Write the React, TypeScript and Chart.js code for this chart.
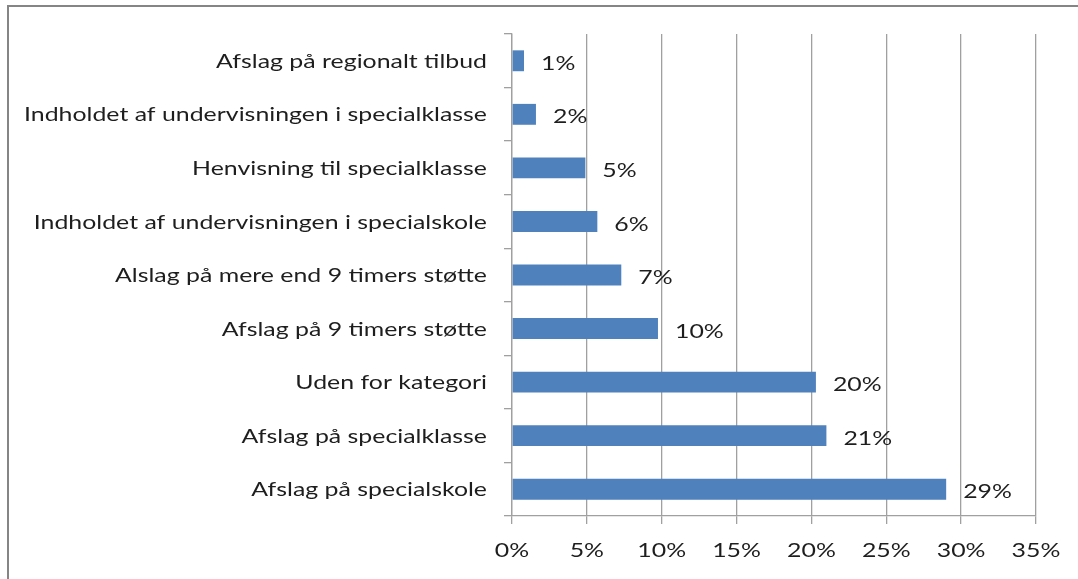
import React, { useEffect, useRef } from "react";
import { Chart, registerables } from "chart.js";

Chart.register(...registerables);

const categories: string[] = [
  "Afslag på regionalt tilbud",
  "Indholdet af undervisningen i specialklasse",
  "Henvisning til specialklasse",
  "Indholdet af undervisningen i specialskole",
  "Alslag på mere end 9 timers støtte",
  "Afslag på 9 timers støtte",
  "Uden for kategori",
  "Afslag på specialklasse",
  "Afslag på specialskole",
];

const values: number[] = [0.8, 1.6, 4.9, 5.7, 7.3, 9.75, 20.3, 21.0, 29.0];

const valueLabels: string[] = ["1%", "2%", "5%", "6%", "7%", "10%", "20%", "21%", "29%"];

const xMin = 0;
const xMax = 35;
const xStep = 5;

const FONT_FAMILY = "Lato, 'Open Sans', sans-serif";
const FONT_SIZE = 19;
const TEXT_COLOR = "#1e1e1e";
const GRID_COLOR = "#a0a0a0";
const BAR_COLOR = "#4f81bd";
// the reference's text is horizontally stretched; longest label spans this width
const LONGEST_LABEL_WIDTH = 463;

function drawStretched(ctx: CanvasRenderingContext2D, text: string, x: number, y: number, sx: number, align: CanvasTextAlign) {
  ctx.save();
  ctx.translate(x, y);
  ctx.scale(sx, 1);
  ctx.textAlign = align;
  ctx.fillText(text, 0, 0);
  ctx.restore();
}

const textPlugin = {
  id: "stretchedText",
  afterDraw(chart: any) {
    const ctx: CanvasRenderingContext2D = chart.ctx;
    ctx.save();
    ctx.font = `${FONT_SIZE}px ${FONT_FAMILY}`;
    ctx.fillStyle = TEXT_COLOR;
    ctx.textBaseline = "middle";
    const longest = categories.reduce((a, b) => (ctx.measureText(b).width > ctx.measureText(a).width ? b : a));
    const sx = LONGEST_LABEL_WIDTH / ctx.measureText(longest).width;

    const yScale = chart.scales.y;
    const xScale = chart.scales.x;

    // category labels
    categories.forEach((c, i) => {
      const y = yScale.getPixelForTick(i);
      drawStretched(ctx, c, yScale.right - 8 - 17, y + 1, sx, "right");
    });

    // x tick labels
    xScale.ticks.forEach((t: any) => {
      const x = xScale.getPixelForValue(t.value);
      drawStretched(ctx, `${t.value}%`, x, xScale.top + 35, sx, "center");
    });

    // value labels
    const meta = chart.getDatasetMeta(0);
    meta.data.forEach((bar: any, i: number) => {
      drawStretched(ctx, valueLabels[i], bar.x + 17, bar.y + 3, sx, "left");
    });
    ctx.restore();
  },
};

export default function App() {
  const canvasRef = useRef<HTMLCanvasElement | null>(null);

  useEffect(() => {
    if (!canvasRef.current) return;
    const chart = new Chart(canvasRef.current, {
      type: "bar",
      data: {
        labels: categories,
        datasets: [
          {
            data: values,
            backgroundColor: BAR_COLOR,
            borderWidth: 0,
            barPercentage: 0.39,
            categoryPercentage: 1,
          },
        ],
      },
      options: {
        indexAxis: "y",
        responsive: false,
        animation: false,
        devicePixelRatio: 1,
        layout: { padding: { top: 34, right: 42, left: 0, bottom: 0 } },
        plugins: {
          legend: { display: false },
          tooltip: { enabled: false },
          title: { display: false },
        },
        scales: {
          x: {
            min: xMin,
            max: xMax,
            ticks: {
              display: false,
              stepSize: xStep,
            },
            grid: {
              color: GRID_COLOR,
              lineWidth: 1.3,
              tickLength: 8,
              drawOnChartArea: true,
            },
            border: { color: GRID_COLOR, width: 1.3 },
            afterFit: (s: any) => {
              s.height = 63;
            },
          },
          y: {
            ticks: { display: false, autoSkip: false },
            grid: {
              color: GRID_COLOR,
              lineWidth: 1.3,
              tickLength: 8,
              drawOnChartArea: false,
              offset: true,
            },
            border: { color: GRID_COLOR, width: 1.3 },
            afterFit: (s: any) => {
              s.width = 512;
            },
          },
        },
      },
      plugins: [textPlugin],
    } as any);
    return () => chart.destroy();
  }, []);

  return (
    <div
      style={{
        position: "fixed",
        left: 0,
        top: 0,
        width: 1078,
        height: 579,
        overflow: "hidden",
        background: "#fff",
      }}
    >
      <div
        style={{
          position: "absolute",
          left: 7,
          top: 5,
          width: 1200,
          height: 700,
          border: "2px solid #858585",
          boxSizing: "border-box",
        }}
      />
      <canvas
        ref={canvasRef}
        width={1078}
        height={579}
        style={{ position: "absolute", left: 0, top: 0, width: 1078, height: 579 }}
      />
    </div>
  );
}
